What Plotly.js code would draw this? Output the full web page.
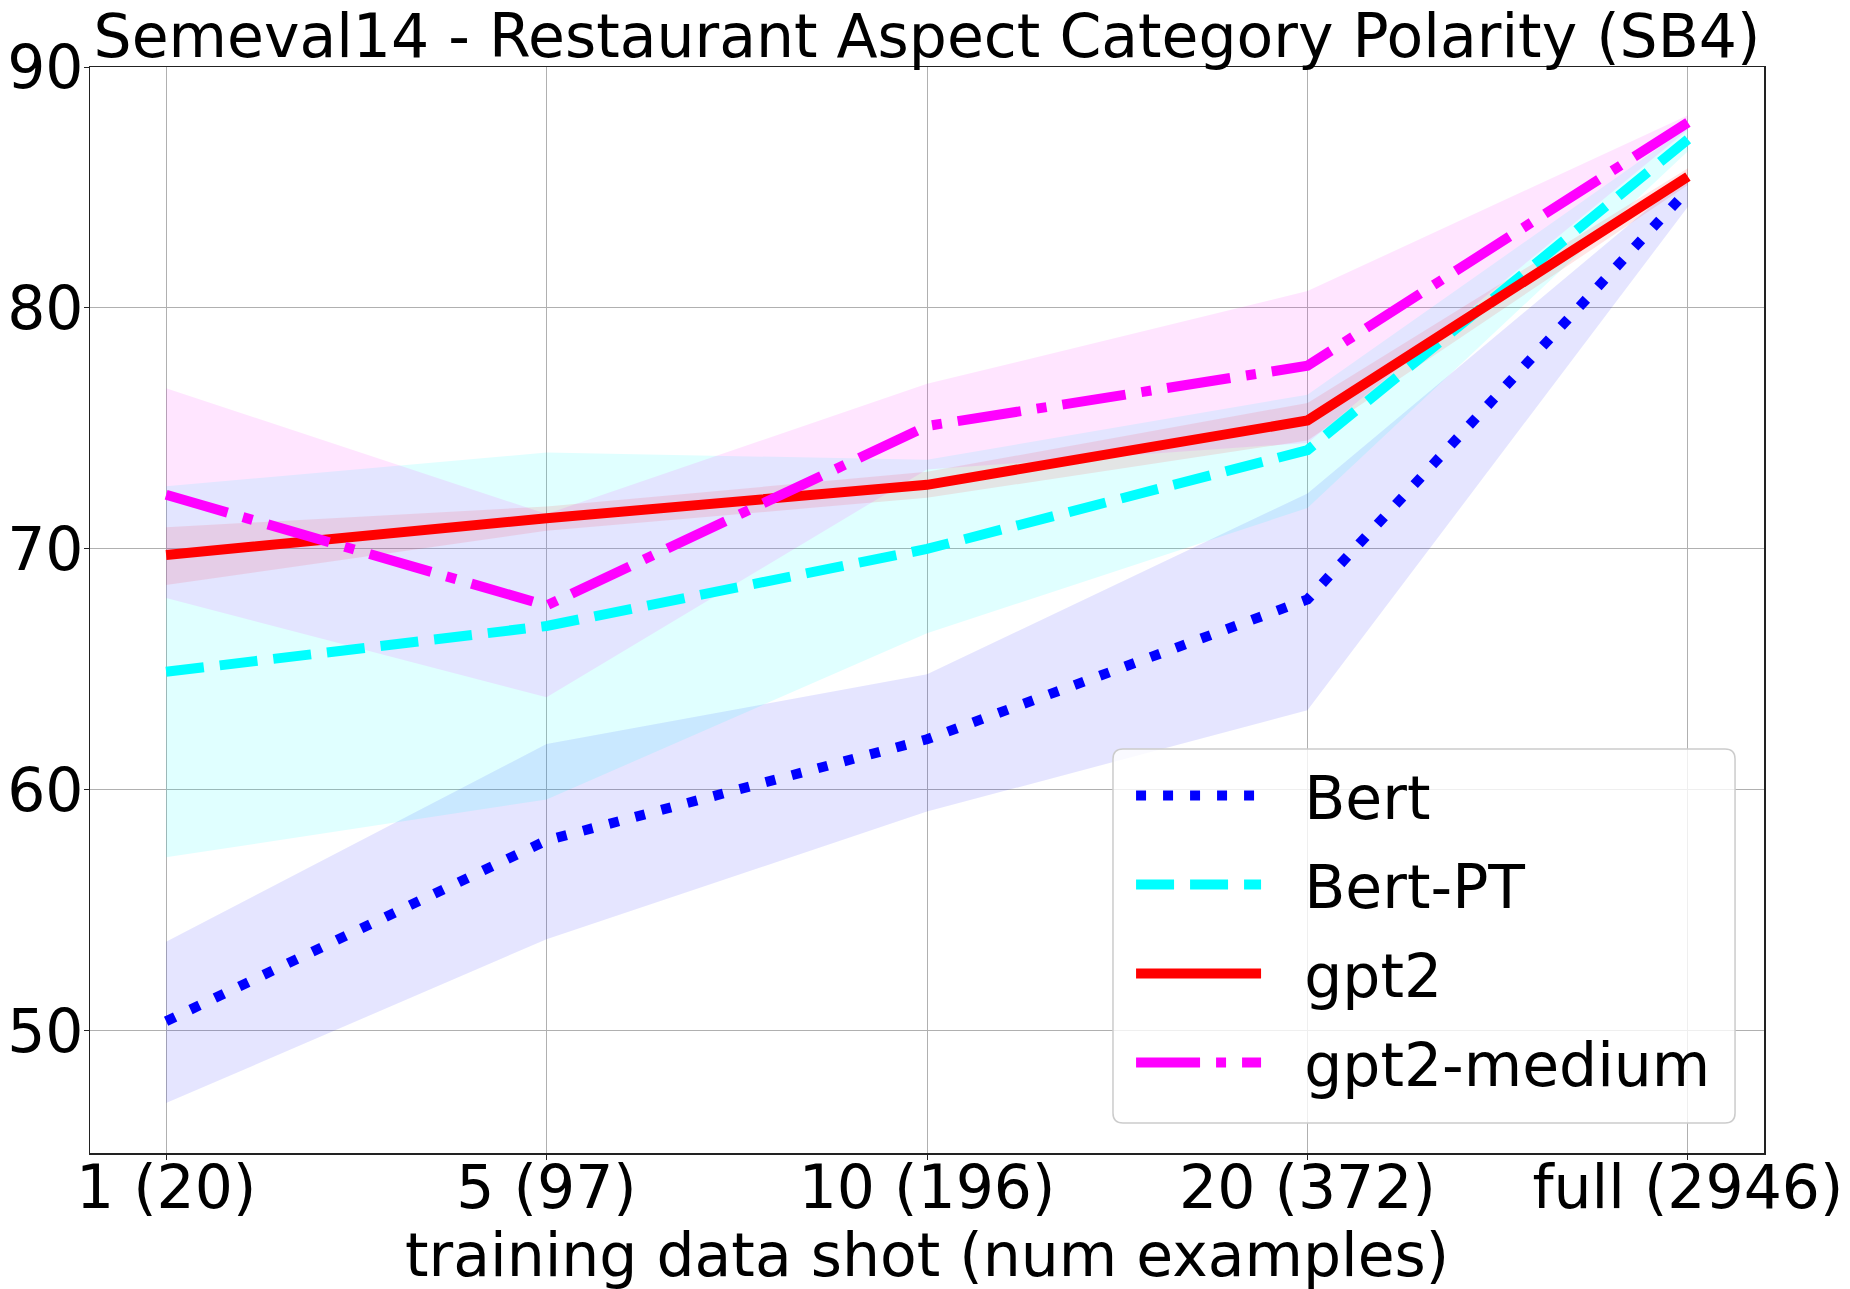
<!DOCTYPE html>
<html>
<head>
<meta charset="utf-8">
<script src="https://cdn.plot.ly/plotly-3.0.1.min.js"></script>
<style>
  html, body { margin: 0; padding: 0; background: #fff; }
  #chart { width: 1850px; height: 1289px; }
</style>
</head>
<body>
<div id="chart"></div>
<script>
// shots on the x axis
const shotLabels = ['1 (20)', '5 (97)', '10 (196)', '20 (372)', 'full (2946)'];
const shotIdx = [0, 1, 2, 3, 4];
const yTicks = [50, 60, 70, 80, 90];

// mean accuracy and the shaded band (low / high) per model
const bertMean = [50.4, 57.9, 62.1, 67.9, 84.9];
const bertLow  = [47.0, 53.8, 59.1, 63.3, 84.2];
const bertHigh = [53.7, 61.9, 64.8, 72.3, 85.5];

const bertPtMean = [64.9, 66.8, 70.0, 74.1, 87.0];
const bertPtLow  = [57.2, 59.6, 66.5, 71.7, 86.5];
const bertPtHigh = [72.6, 74.0, 73.7, 76.4, 87.5];

const gpt2Mean = [69.75, 71.27, 72.66, 75.33, 85.45];
const gpt2Low  = [68.5, 70.75, 72.12, 74.5, 85.1];
const gpt2High = [70.9, 71.76, 73.2, 76.06, 85.8];

const gpt2mMean = [72.25, 67.65, 75.1, 77.6, 87.7];
const gpt2mLow  = [67.96, 63.84, 73.3, 74.4, 87.4];
const gpt2mHigh = [76.67, 71.45, 76.85, 80.7, 88.0];

const FONT = 'DejaVu Sans, Verdana, sans-serif';
const FS = 60;
const PAD = '\u00a0\u00a0';   // gap between legend handle and label

const models = [
    { name: 'Bert',        mean: bertMean,   low: bertLow,   high: bertHigh,   color: 'rgb(0,0,255)',   fill: 'rgba(0,0,255,0.1)',    dash: '10px,17px' },
    { name: 'Bert-PT',     mean: bertPtMean, low: bertPtLow, high: bertPtHigh, color: 'rgb(0,255,255)', fill: 'rgba(0,255,255,0.12)', dash: '38px,16px' },
    { name: 'gpt2',        mean: gpt2Mean,   low: gpt2Low,   high: gpt2High,   color: 'rgb(255,0,0)',   fill: 'rgba(255,0,0,0.1)',    dash: 'solid' },
    { name: 'gpt2-medium', mean: gpt2mMean,  low: gpt2mLow,  high: gpt2mHigh,  color: 'rgb(255,0,255)', fill: 'rgba(255,0,255,0.1)',  dash: '64px,16px,10px,16px' }
];

// shaded bands first, lines on top
const bands = models.map(m => ({
    x: shotIdx.concat(shotIdx.slice().reverse()),
    y: m.low.concat(m.high.slice().reverse()),
    type: 'scatter',
    mode: 'lines',
    fill: 'toself',
    fillcolor: m.fill,
    line: { width: 0 },
    hoverinfo: 'skip',
    showlegend: false,
    legendgroup: m.name
}));

const lines = models.map(m => ({
    x: shotIdx,
    y: m.mean,
    type: 'scatter',
    mode: 'lines',
    name: PAD + m.name,
    legendgroup: m.name,
    line: { color: m.color, width: 10, dash: m.dash }
}));

// legend frame (rounded, semi transparent like matplotlib's)
const lx0 = 0.6111, lx1 = 0.9827, ly0 = 0.0276, ly1 = 0.3720;
const rx = 10 / 1674, ry = 10 / 1086;
const framePath = [
    `M${lx0 + rx},${ly1}`, `L${lx1 - rx},${ly1}`, `Q${lx1},${ly1} ${lx1},${ly1 - ry}`,
    `L${lx1},${ly0 + ry}`, `Q${lx1},${ly0} ${lx1 - rx},${ly0}`,
    `L${lx0 + rx},${ly0}`, `Q${lx0},${ly0} ${lx0},${ly0 + ry}`,
    `L${lx0},${ly1 - ry}`, `Q${lx0},${ly1} ${lx0 + rx},${ly1}`, 'Z'
].join(' ');

const layout = {
    width: 1850,
    height: 1289,
    margin: { l: 90, r: 86, t: 67, b: 136 },
    paper_bgcolor: '#fff',
    plot_bgcolor: '#fff',
    font: { family: FONT, size: FS, color: '#000' },
    title: {
        text: 'Semeval14 - Restaurant Aspect Category Polarity (SB4)',
        font: { family: FONT, size: FS, color: '#000' },
        x: 0.5, xref: 'paper', xanchor: 'center',
        y: 1, yref: 'paper', yanchor: 'bottom',
        pad: { b: 10 }
    },
    xaxis: {
        range: [-0.2, 4.2],
        tickvals: shotIdx,
        ticktext: shotLabels,
        tickfont: { size: FS },
        ticklabelstandoff: -24,
        showgrid: true, gridcolor: '#b0b0b0', gridwidth: 1,
        zeroline: false,
        showline: true, linecolor: '#222', linewidth: 1.5, mirror: true,
        ticks: 'outside', ticklen: 5, tickcolor: '#222'
    },
    yaxis: {
        range: [44.93, 90],
        tickvals: yTicks,
        tickfont: { size: FS },
        ticklabelstandoff: -12,
        showgrid: true, gridcolor: '#b0b0b0', gridwidth: 1,
        zeroline: false,
        showline: true, linecolor: '#222', linewidth: 1.5, mirror: true,
        ticks: 'outside', ticklen: 5, tickcolor: '#222'
    },
    annotations: [{
        text: 'training data shot (num examples)',
        xref: 'paper', yref: 'paper',
        x: 0.5, y: -0.0935,
        xanchor: 'center', yanchor: 'middle',
        showarrow: false,
        font: { family: FONT, size: FS, color: '#000' }
    }],
    shapes: [{
        type: 'path', xref: 'paper', yref: 'paper',
        path: framePath,
        fillcolor: 'rgba(255,255,255,0.8)',
        line: { color: '#cccccc', width: 1.5 },
        layer: 'above'
    }],
    legend: {
        x: 0.6219, xanchor: 'left',
        y: 0.3711, yanchor: 'top',
        bgcolor: 'rgba(0,0,0,0)',
        borderwidth: 0,
        font: { family: FONT, size: FS },
        itemwidth: 125,
        tracegroupgap: 8
    },
    showlegend: true
};

Plotly.newPlot('chart', bands.concat(lines), layout, { displayModeBar: false, staticPlot: true });
</script>
</body>
</html>
